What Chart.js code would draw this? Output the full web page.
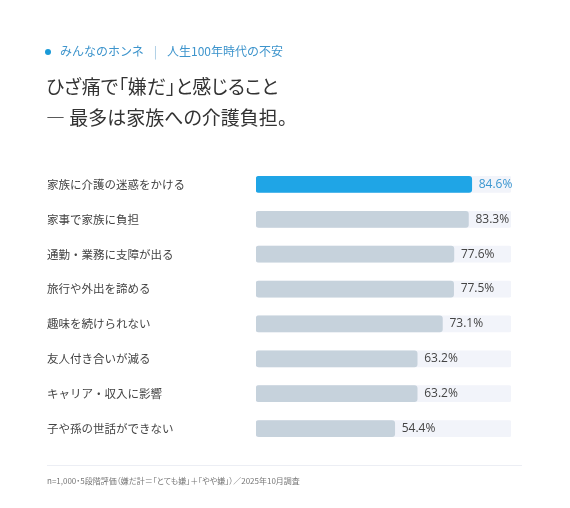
<!DOCTYPE html>
<html lang="ja">
<head>
    <meta charset="UTF-8">
    <title>ひざ痛で「嫌だ」と感じること</title>
    <script src="https://cdn.jsdelivr.net/npm/chart.js"></script>
    <style>
        body { margin: 0; background: #fff; font-family: "Noto Sans CJK JP", "Noto Sans", sans-serif; }
        #wrap { position: relative; width: 570px; height: 508px; overflow: hidden; }
        #chart { position: absolute; left: 0; top: 0; }
        .kicker { position: absolute; left: 45px; top: 43px; line-height: 16px; font-size: 12px; color: #3d94cc; }
        .kicker .dot { display: inline-block; width: 6px; height: 6px; border-radius: 50%; background: #1a9ad8; margin-right: 9px; vertical-align: 1px; }
        .kicker .sep { color: #9cc4df; margin: 0 10px; }
        .title { position: absolute; left: 46px; top: 70px; line-height: 31px; font-size: 19px; color: #333; font-feature-settings: "palt"; }
        .rule { position: absolute; left: 47px; top: 465px; width: 475px; height: 1px; background: #eceef4; }
        .note { position: absolute; left: 47px; top: 474px; line-height: 14px; font-size: 8px; color: #777; font-feature-settings: "palt"; }
    </style>
</head>
<body>
<div id="wrap">
    <canvas id="chart" width="570" height="508"></canvas>
    <div class="kicker"><span class="dot"></span>みんなのホンネ<span class="sep">|</span>人生100年時代の不安</div>
    <div class="title">ひざ痛で「嫌だ」と感じること<br>— 最多は家族への介護負担。</div>
    <div class="rule"></div>
    <div class="note">n=1,000・5段階評価（嫌だ計＝「とても嫌」＋「やや嫌」）／2025年10月調査</div>
</div>

<script>
    const categories = [
        '家族に介護の迷惑をかける',
        '家事で家族に負担',
        '通勤・業務に支障が出る',
        '旅行や外出を諦める',
        '趣味を続けられない',
        '友人付き合いが減る',
        'キャリア・収入に影響',
        '子や孫の世話ができない'
    ];
    const values = [84.6, 83.3, 77.6, 77.5, 73.1, 63.2, 63.2, 54.4];
    const scaleMax = 100;
    const highlightIndex = 0;

    const barColors = values.map((v, i) => i === highlightIndex ? '#1fa5e6' : '#c6d2dc');
    const labelColors = values.map((v, i) => i === highlightIndex ? '#3a96d0' : '#444');

    // value labels just right of each bar
    const valueLabels = {
        id: 'valueLabels',
        afterDatasetsDraw(chart) {
            const ctx = chart.ctx;
            const meta = chart.getDatasetMeta(0);
            ctx.save();
            ctx.font = '12px "Open Sans", "Noto Sans", sans-serif';
            ctx.textBaseline = 'middle';
            ctx.textAlign = 'left';
            meta.data.forEach((bar, i) => {
                ctx.fillStyle = labelColors[i];
                ctx.fillText(values[i].toFixed(1) + '%', bar.x + 7, bar.y);
            });
            ctx.restore();
        }
    };

    new Chart(document.getElementById('chart'), {
        type: 'bar',
        data: {
            labels: categories,
            datasets: [
                {
                    data: values,
                    backgroundColor: barColors,
                    borderRadius: 3,
                    borderSkipped: false,
                    barThickness: 16,
                    grouped: false,
                    order: 0
                },
                {
                    data: categories.map(() => scaleMax),
                    backgroundColor: '#f2f4fa',
                    borderRadius: 2,
                    borderSkipped: false,
                    barThickness: 16,
                    grouped: false,
                    order: 1
                }
            ]
        },
        options: {
            indexAxis: 'y',
            responsive: false,
            animation: false,
            layout: { padding: { left: 47, right: 59, top: 167, bottom: 62 } },
            plugins: {
                legend: { display: false },
                tooltip: { enabled: false }
            },
            scales: {
                x: { display: false, min: 0, max: scaleMax },
                y: {
                    grid: { display: false },
                    border: { display: false },
                    ticks: {
                        crossAlign: 'far',
                        color: '#444',
                        font: { family: '"Noto Sans CJK JP", sans-serif', size: 11.5 }
                    },
                    afterFit(scale) { scale.width = 209; }
                }
            }
        },
        plugins: [valueLabels]
    });
</script>
</body>
</html>
